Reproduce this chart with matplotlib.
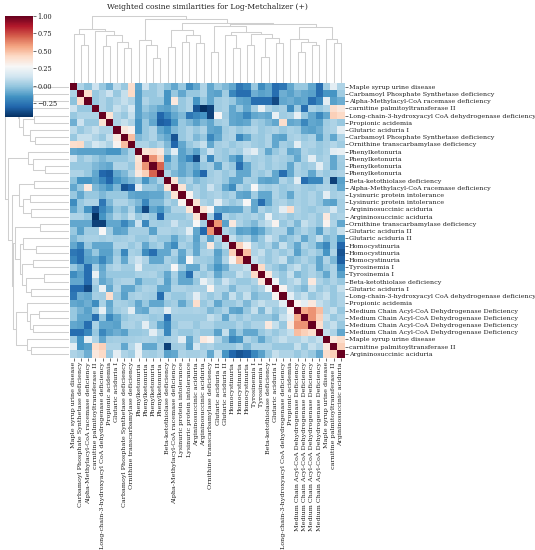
import numpy as np
import matplotlib
matplotlib.use("Agg")
import matplotlib.pyplot as plt
from matplotlib.collections import LineCollection

plt.rcParams['font.family'] = ['DejaVu Serif']

title = "Weighted cosine similarities for Log-Metchalizer (+)"

labels = [
    "Maple syrup urine disease",
    "Carbamoyl Phosphate Synthetase deficiency",
    "Alpha-Methylacyl-CoA racemase deficiency",
    "carnitine palmitoyltransferase II",
    "Long-chain-3-hydroxyacyl CoA dehydrogenase deficiency",
    "Propionic acidemia",
    "Glutaric aciduria I",
    "Carbamoyl Phosphate Synthetase deficiency",
    "Ornithine transcarbamylase deficiency",
    "Phenylketonuria",
    "Phenylketonuria",
    "Phenylketonuria",
    "Phenylketonuria",
    "Beta-ketothiolase deficiency",
    "Alpha-Methylacyl-CoA racemase deficiency",
    "Lysinuric protein intolerance",
    "Lysinuric protein intolerance",
    "Argininosuccinic aciduria",
    "Argininosuccinic aciduria",
    "Ornithine transcarbamylase deficiency",
    "Glutaric aciduria II",
    "Glutaric aciduria II",
    "Homocystinuria",
    "Homocystinuria",
    "Homocystinuria",
    "Tyrosinemia I",
    "Tyrosinemia I",
    "Beta-ketothiolase deficiency",
    "Glutaric aciduria I",
    "Long-chain-3-hydroxyacyl CoA dehydrogenase deficiency",
    "Propionic acidemia",
    "Medium Chain Acyl-CoA Dehydrogenase Deficiency",
    "Medium Chain Acyl-CoA Dehydrogenase Deficiency",
    "Medium Chain Acyl-CoA Dehydrogenase Deficiency",
    "Medium Chain Acyl-CoA Dehydrogenase Deficiency",
    "Maple syrup urine disease",
    "carnitine palmitoyltransferase II",
    "Argininosuccinic aciduria",
]

# upper triangle of the similarity matrix (row i, columns i+1 .. 37), in displayed order
similarity_upper = [
    [0.05, -0.02, 0.12, 0.0, -0.08, 0.08, 0.0, 0.4, -0.1, 0.12, 0.0, 0.05, -0.02, -0.1, 0.0, -0.18, -0.1, 0.05,
     -0.1, 0.0, -0.05, -0.1, -0.25, -0.2, 0.0, -0.18, -0.1, -0.28, -0.25, -0.1, 0.0, 0.0, -0.1, -0.28, 0.02, 0.2, 0.05],
    [0.4, 0.0, 0.05, 0.12, 0.0, 0.1, 0.42, -0.12, 0.0, 0.0, 0.05, -0.15, 0.0, -0.1, 0.0, 0.0, 0.05,
     -0.1, -0.12, 0.02, -0.2, -0.28, -0.28, -0.08, -0.12, -0.1, -0.28, -0.08, -0.12, -0.06, -0.1, -0.12, -0.28, -0.15, -0.15, 0.02],
    [0.0, 0.05, 0.0, 0.05, 0.1, 0.05, -0.12, 0.05, 0.0, 0.0, -0.15, 0.35, 0.0, 0.05, -0.15, 0.0,
     -0.1, 0.02, 0.04, 0.0, -0.1, -0.12, -0.28, -0.28, -0.28, -0.38, -0.1, -0.08, -0.12, -0.1, -0.28, -0.2, 0.2, -0.12, -0.08],
    [0.05, 0.0, 0.1, 0.05, 0.15, -0.12, 0.0, -0.05, -0.1, -0.12, -0.05, 0.0, 0.05, -0.35, -0.45,
     -0.4, 0.02, 0.04, -0.1, 0.0, -0.1, 0.03, 0.22, 0.05, 0.0, 0.03, -0.18, 0.02, -0.28, 0.04, 0.0, 0.05, 0.4, 0.35],
    [0.38, 0.05, 0.0, 0.1, -0.12, -0.05, -0.08, -0.3, -0.2, -0.1, -0.05, -0.25, -0.2, -0.15,
     -0.4, 0.28, 0.02, -0.1, -0.12, -0.2, -0.1, -0.08, -0.1, 0.22, 0.02, 0.04, 0.22, 0.0, -0.1, -0.2, -0.1, 0.45, 0.42],
    [0.05, 0.1, 0.05, -0.15, 0.0, -0.1, -0.32, -0.3, -0.15, 0.0, -0.05, -0.12, -0.05,
     -0.1, 0.02, 0.04, -0.1, -0.12, -0.1, 0.03, 0.0, -0.05, -0.1, 0.4, -0.1, -0.08, -0.2, -0.1, -0.12, 0.02, 0.05, 0.0],
    [0.35, 0.3, -0.15, 0.0, 0.05, -0.1, -0.15, -0.05, 0.0, 0.05, 0.0, 0.05,
     -0.1, -0.12, 0.02, 0.05, 0.0, 0.04, 0.06, 0.0, 0.03, 0.05, 0.0, 0.04, 0.02, -0.1, -0.12, -0.08, 0.03, 0.05, 0.2],
    [0.5, -0.05, 0.0, 0.05, -0.05, -0.1, -0.35, 0.0, 0.05, -0.05, 0.0,
     -0.2, -0.1, 0.03, 0.05, -0.2, -0.1, 0.02, 0.0, 0.05, -0.1, -0.12, 0.03, 0.05, 0.0, 0.04, -0.12, 0.02, -0.1, 0.05],
    [0.05, 0.05, 0.0, 0.05, -0.05, -0.3, -0.1, 0.0, 0.05, 0.1,
     -0.1, 0.03, 0.05, 0.0, 0.04, 0.06, 0.02, 0.0, 0.05, -0.1, 0.03, 0.0, 0.2, 0.04, 0.05, 0.0, 0.03, 0.06, 0.02],
    [0.38, 0.4, 0.35, 0.0, 0.2, -0.12, -0.05, -0.12, 0.0,
     0.12, 0.03, 0.0, 0.05, 0.02, 0.12, 0.2, 0.04, -0.1, 0.0, 0.05, -0.1, -0.08, 0.05, 0.02, 0.0, 0.04, 0.2, 0.22],
    [0.6, 0.45, -0.15, 0.0, -0.12, -0.2, -0.38, 0.05,
     -0.2, 0.03, 0.0, -0.1, -0.18, 0.05, 0.02, 0.04, 0.0, 0.05, 0.03, 0.0, -0.1, 0.04, 0.2, 0.02, 0.05, -0.1, 0.03],
    [0.7, -0.05, 0.0, -0.1, -0.05, -0.1, 0.0,
     0.03, -0.12, 0.05, 0.0, -0.28, -0.1, 0.02, 0.05, 0.0, 0.04, 0.02, -0.1, 0.05, 0.0, 0.03, 0.2, 0.04, -0.1, 0.02],
    [0.05, -0.05, -0.1, -0.05, -0.15, -0.3,
     0.02, 0.05, 0.0, 0.04, -0.1, -0.1, 0.03, 0.0, 0.05, -0.1, -0.28, -0.1, 0.04, 0.02, -0.1, 0.05, 0.0, 0.03, 0.05],
    [0.38, 0.0, 0.05, -0.05, 0.0,
     0.03, 0.05, 0.0, -0.1, -0.1, 0.04, 0.02, -0.1, -0.12, -0.1, 0.05, 0.0, 0.2, -0.28, -0.2, -0.2, 0.03, -0.4, -0.12],
    [0.38, 0.0, 0.05, 0.0,
     0.12, 0.03, -0.1, -0.18, 0.05, 0.0, 0.28, 0.04, 0.02, 0.05, 0.0, 0.03, 0.05, 0.02, 0.0, 0.04, 0.05, 0.02, -0.1],
    [0.3, 0.05, 0.0,
     0.03, 0.05, 0.0, 0.04, -0.1, -0.12, 0.02, -0.1, -0.1, 0.05, 0.0, -0.1, 0.04, 0.02, 0.05, 0.0, 0.2, 0.03, 0.05],
    [0.38, 0.05,
     0.02, 0.2, 0.05, 0.0, 0.04, 0.28, -0.1, -0.28, -0.1, 0.03, 0.05, 0.0, 0.04, 0.02, 0.05, 0.0, -0.1, -0.12, 0.03],
    [0.38,
     0.28, -0.1, -0.12, -0.1, -0.1, 0.03, -0.1, 0.05, 0.0, 0.04, 0.2, 0.4, 0.05, 0.02, 0.0, 0.04, 0.05, 0.15, 0.03],
    [0.03, -0.3, 0.05, 0.0, 0.04, 0.02, 0.05, 0.0, 0.22, 0.03, 0.05, 0.0, 0.04, 0.02, 0.05, 0.0, 0.35, 0.03, 0.05],
    [0.6, -0.12, 0.35, 0.05, 0.0, -0.05, 0.05, 0.1, 0.3, 0.0, 0.05, -0.05, 0.1, 0.05, 0.0, 0.3, 0.05, -0.1],
    [0.05, 0.0, -0.12, -0.1, -0.15, -0.1, 0.0, 0.05, 0.05, -0.1, 0.0, 0.05, 0.0, -0.12, 0.05, 0.0, 0.1],
    [0.1, 0.0, 0.05, -0.08, 0.0, 0.12, 0.05, -0.05, 0.0, 0.05, -0.1, 0.0, 0.1, -0.05, 0.0, -0.15],
    [0.45, 0.3, 0.05, 0.0, 0.05, -0.05, 0.1, 0.0, -0.1, 0.05, 0.0, -0.12, -0.2, 0.0, -0.3],
    [0.5, 0.05, 0.1, 0.0, 0.05, 0.0, 0.05, -0.12, 0.0, 0.05, 0.0, -0.15, 0.05, -0.35],
    [0.1, 0.05, 0.0, 0.05, 0.1, -0.05, 0.0, 0.05, 0.0, -0.1, 0.05, -0.05, -0.32],
    [0.42, 0.05, 0.0, -0.05, 0.05, 0.1, 0.0, 0.05, -0.1, 0.0, 0.05, -0.2],
    [0.35, 0.05, 0.0, 0.1, -0.05, 0.0, 0.05, 0.0, -0.1, 0.05, -0.12],
    [0.25, 0.0, 0.05, 0.1, 0.0, 0.35, 0.05, 0.0, 0.05, 0.0],
    [0.3, 0.05, 0.0, -0.05, 0.1, 0.0, 0.05, 0.0, 0.1],
    [0.2, 0.05, 0.1, 0.0, 0.05, 0.1, 0.0, 0.05],
    [0.3, 0.2, 0.35, 0.1, 0.05, 0.0, 0.05],
    [0.55, 0.6, 0.5, 0.05, 0.1, 0.0],
    [0.6, 0.45, 0.1, 0.0, 0.05],
    [0.4, 0.05, 0.1, 0.0],
    [0.1, 0.05, -0.1],
    [0.35, 0.4],
    [0.45],
]

# hierarchical clustering tree: (left, right, height); leaves 0..37, new nodes numbered from 38
merges = [
    (1, 2, 38.0),      # 38
    (0, 38, 49.0),     # 39
    (7, 8, 35.3),      # 40
    (6, 40, 41.3),     # 41
    (4, 5, 37.3),      # 42
    (42, 41, 48.0),    # 43
    (3, 43, 52.3),     # 44
    (39, 44, 54.0),    # 45
    (11, 12, 25.3),    # 46
    (10, 46, 38.0),    # 47
    (9, 47, 43.0),     # 48
    (13, 14, 36.3),    # 49
    (15, 16, 40.7),    # 50
    (17, 18, 39.7),    # 51
    (50, 51, 48.0),    # 52
    (49, 52, 53.0),    # 53
    (19, 20, 31.0),    # 54
    (22, 23, 35.0),    # 55
    (21, 55, 48.0),    # 56
    (24, 25, 38.0),    # 57
    (26, 27, 26.3),    # 58
    (28, 29, 39.7),    # 59
    (58, 59, 44.7),    # 60
    (57, 60, 49.0),    # 61
    (56, 61, 51.3),    # 62
    (54, 62, 57.0),    # 63
    (31, 32, 31.3),    # 64
    (33, 34, 38.0),    # 65
    (64, 65, 41.3),    # 66
    (30, 66, 44.0),    # 67
    (36, 37, 40.0),    # 68
    (35, 68, 44.5),    # 69
    (67, 69, 56.0),    # 70
    (63, 70, 59.0),    # 71
    (53, 71, 60.0),    # 72
    (48, 72, 63.7),    # 73
    (45, 73, 67.3),    # 74 root
]

n = len(labels)
mat = np.eye(n)
for i, row in enumerate(similarity_upper):
    for k, v in enumerate(row):
        j = i + 1 + k
        mat[i, j] = v
        mat[j, i] = v

W, H = 535, 550
fig = plt.figure(figsize=(W / 100, H / 100), dpi=100)


def ax_px(x0, y0, x1, y1):
    return fig.add_axes([x0 / W, 1 - y1 / H, (x1 - x0) / W, (y1 - y0) / H])


# dendrogram segments
pos = {i: i + 0.5 for i in range(n)}
hgt = {i: 0.0 for i in range(n)}
segs = []
for idx, (a, b, h) in enumerate(merges):
    node = n + idx
    xa, xb = pos[a], pos[b]
    segs.append(([xa, xa, xb, xb], [hgt[a], h, h, hgt[b]]))
    pos[node] = (xa + xb) / 2
    hgt[node] = h
hmax = max(m[2] for m in merges)
tree_color = '#cfcfcf'
tree_lw = 0.75

# heatmap
hx0, hy0, hx1, hy1 = 70, 83, 344.5, 357.5
ax = ax_px(hx0, hy0, hx1, hy1)
vmin, vmax = mat.min(), mat.max()
mesh = ax.pcolormesh(np.arange(n + 1), np.arange(n + 1), mat, cmap='RdBu_r',
                     vmin=vmin, vmax=vmax, linewidth=0, rasterized=True)
ax.set_xlim(0, n)
ax.set_ylim(n, 0)
ax.set_xticks(np.arange(n) + 0.5)
ax.set_xticklabels(labels, rotation=90, fontsize=4.6)
ax.set_yticks(np.arange(n) + 0.5)
ax.set_yticklabels(labels, fontsize=4.6)
ax.yaxis.tick_right()
ax.tick_params(length=1.8, width=0.5, pad=1.5, colors='#333333', labelcolor='#222222')
for s in ax.spines.values():
    s.set_visible(False)

# column dendrogram
axc = ax_px(hx0, hy0 - (hy0 - 15.7) * 1.05, hx1, hy0)
axc.add_collection(LineCollection([list(zip(xs, ys)) for xs, ys in segs],
                                  colors=tree_color, linewidths=tree_lw))
axc.set_xlim(0, n)
axc.set_ylim(0, hmax * 1.05)
axc.axis('off')
axc.set_title(title, fontsize=5.5, pad=2.5, color='#222222')

# row dendrogram
axr = ax_px(1.8, hy0, 69, hy1)
axr.add_collection(LineCollection([list(zip(ys, xs)) for xs, ys in segs],
                                  colors=tree_color, linewidths=tree_lw))
axr.set_ylim(n, 0)
axr.set_xlim(hmax * 1.05, 0)
axr.axis('off')

# colorbar
axcb = ax_px(5, 16, 33, 117)
cb = fig.colorbar(mesh, cax=axcb)
cb.outline.set_linewidth(0)
cb.set_ticks([-0.25, 0.0, 0.25, 0.5, 0.75, 1.0])
cb.set_ticklabels(['\u22120.25', '0.00', '0.25', '0.50', '0.75', '1.00'])
axcb.tick_params(labelsize=4.8, length=1.8, width=0.5, pad=1.5, colors='#333333', labelcolor='#222222')

fig.savefig('out.png', dpi=100)
